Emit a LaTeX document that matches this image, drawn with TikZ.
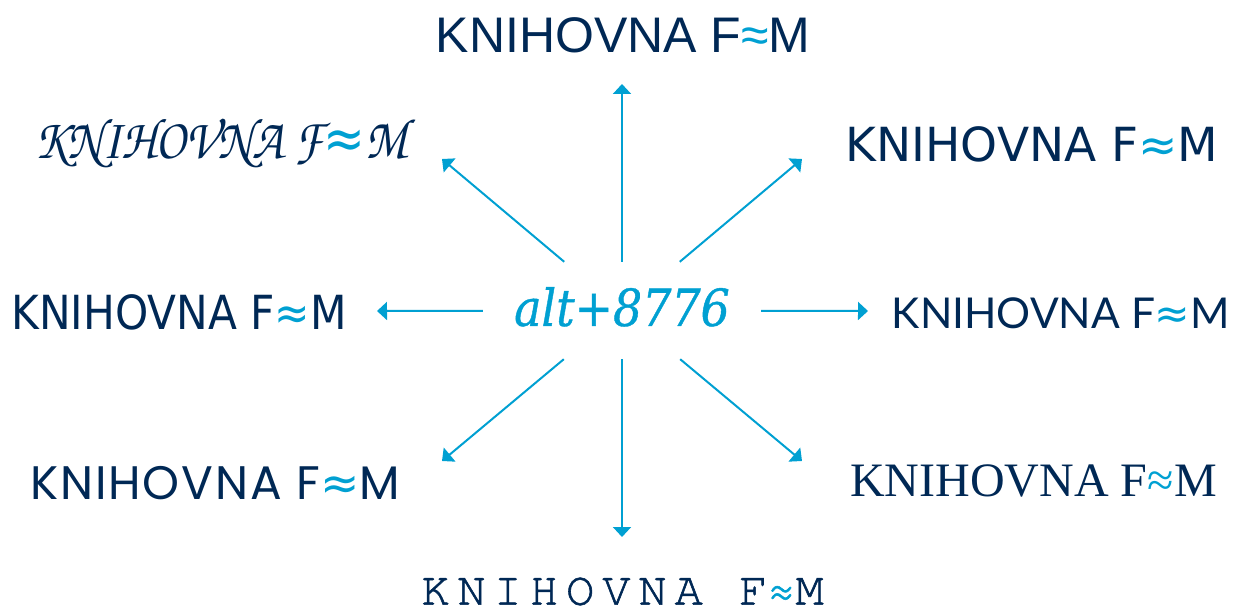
\documentclass[tikz,border=0pt]{standalone}
\usepackage{fontspec}
\usetikzlibrary{arrows.meta}

\definecolor{fmnavy}{RGB}{0,40,85}
\definecolor{fmblue}{RGB}{0,160,210}

% one family for each label
\newfontfamily\fmarial{Liberation Sans}
\newfontfamily\fmscript{TeX Gyre Chorus}
\newfontfamily\fmverdana{DejaVu Sans}
\newfontfamily\fmtahoma{DejaVu Sans Condensed}
\newfontfamily\fmslab[FakeBold=0.8]{DejaVu Serif Condensed Italic}
\newfontfamily\fmgill{Lato}
\newfontfamily\fmgothic[LetterSpace=4]{Poppins}
\newfontfamily\fmtimes{Liberation Serif}
\newfontfamily\fmcourier[LetterSpace=17,FakeBold=1.2]{TeX Gyre Cursor}

\newcommand{\ap}{{\color{fmblue}≈}}
\newcommand{\apd}{{\fmverdana\color{fmblue}≈}}
\newcommand{\fs}[1]{\fontsize{#1}{#1}\selectfont}

\begin{document}
\begin{tikzpicture}[x=1pt,y=-1pt,
    lbl/.style={text=fmnavy, inner sep=0pt},
    arr/.style={draw=fmblue, line width=2pt, -{Triangle[length=10pt,width=18pt]}}]
    \useasboundingbox (0,0) rectangle (1235,612);

    % Centre
    \node[inner sep=0pt, minimum width=278pt, minimum height=97pt, text depth=8pt,
          text=fmblue, font=\fmslab\fs{51}] (c) at (622,310.5) {alt+8776};

    % Labels
    \node[lbl, font=\fmarial\fs{50}]   (n)  at (623,35.5)   {KNIHOVNA F\ap{}M};
    \node[lbl, font=\fmscript\fs{50}]  (nw) at (221,143)    {\scalebox{1}[1.15]{KNIHOVNA F\apd{}M}};
    \node[lbl, font=\fmverdana\fs{47}] (ne) at (1032,144.5) {KNIHOVNA F\ap{}M};
    \node[lbl, font=\fmtahoma\fs{47}]  (w)  at (179,312)    {KNIHOVNA F\ap{}M};
    \node[lbl, font=\fmgill\fs{42.5}]  (e)  at (1061,313.5) {KNIHOVNA F\apd{}M};
    \node[lbl, font=\fmgothic\fs{47}]  (sw) at (215,483.5)  {KNIHOVNA F\apd{}M};
    \node[lbl, font=\fmtimes\fs{48}]   (se) at (1033.5,481) {KNIHOVNA F\ap{}M};
    \node[lbl, font=\fmcourier\fs{47}] (s)  at (622.5,591.5) {KNIHOVNA F\ap{}M};

    % Arrow tips
    \coordinate (tn)  at (622,84);
    \coordinate (ts)  at (622,537);
    \coordinate (tw)  at (377,311);
    \coordinate (te)  at (868,311);
    \coordinate (tnw) at (442,159);
    \coordinate (tne) at (802,159);
    \coordinate (tsw) at (442,461);
    \coordinate (tse) at (802,461);

    % Arrows
    \draw[arr] (c) -- (tn);
    \draw[arr] (c) -- (ts);
    \draw[arr] (c) -- (tw);
    \draw[arr] (c) -- (te);
    \draw[arr] (c) -- (tnw);
    \draw[arr] (c) -- (tne);
    \draw[arr] (c) -- (tsw);
    \draw[arr] (c) -- (tse);
\end{tikzpicture}
\end{document}
